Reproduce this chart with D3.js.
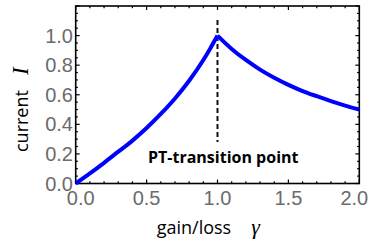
<!DOCTYPE html>
<html><head><meta charset="utf-8">
<script src="https://cdn.jsdelivr.net/npm/d3@7"></script>
<style>body{margin:0;background:#fff}</style>
</head><body>
<svg id="c" width="371" height="247"></svg>
<script>
const gammaLeft = [0,0.1,0.2,0.3,0.4,0.5,0.6,0.7,0.8,0.9,0.95,1.0];
const currentLeft = [0,0.068,0.14,0.215,0.29,0.375,0.47,0.575,0.695,0.835,0.915,1.0];
const gammaRight = [1.0,1.1,1.2,1.3,1.4,1.5,1.6,1.7,1.8,1.9,2.0];
const currentRight = [1.0,0.91,0.835,0.77,0.715,0.667,0.625,0.59,0.557,0.527,0.5];
const xTicks = [0,0.5,1.0,1.5,2.0];
const yTicks = [0,0.2,0.4,0.6,0.8,1.0];
const transitionGamma = 1.0;
const annotation = "PT-transition point";

const svg = d3.select("#c");
const x = d3.scaleLinear().domain([0,2]).range([75.7,359.3]);
const y = d3.scaleLinear().domain([0,1.2]).range([183.5,6]);

svg.append("rect").attr("x",x(0)).attr("y",y(1.2)).attr("width",x(2)-x(0)).attr("height",y(0)-y(1.2))
  .attr("fill","none").attr("stroke","#000").attr("stroke-width",1.6);

const tickG = svg.append("g").attr("stroke","#000").attr("stroke-width",1.2);
d3.range(0,21).forEach(i=>{
  const v=i/10, major = i%5===0, L = major?4:2.2;
  tickG.append("line").attr("x1",x(v)).attr("x2",x(v)).attr("y1",y(0)).attr("y2",y(0)-L);
  tickG.append("line").attr("x1",x(v)).attr("x2",x(v)).attr("y1",y(1.2)).attr("y2",y(1.2)+L);
});
d3.range(0,25).forEach(i=>{
  const v=i*0.05, major = i%4===0, L = major?4:2.2;
  tickG.append("line").attr("y1",y(v)).attr("y2",y(v)).attr("x1",x(0)).attr("x2",x(0)+L);
  tickG.append("line").attr("y1",y(v)).attr("y2",y(v)).attr("x1",x(2)).attr("x2",x(2)-L);
});

function styleLab(sel){
  sel.attr("font-family","'Liberation Sans', Arial, sans-serif").attr("font-size","20px").attr("fill","#6b6b6b");
}
const xShift = d => d===0 ? 5 : (d===2 ? -5 : 0);
svg.append("g").selectAll("text").data(xTicks).join("text")
  .attr("x",d=>x(d)+xShift(d)).attr("y",205).attr("text-anchor","middle").text(d=>d.toFixed(1)).call(styleLab);

svg.append("g").selectAll("text").data(yTicks).join("text")
  .attr("x",73).attr("y",d=>y(d)+7).attr("text-anchor","end").text(d=>d.toFixed(1)).call(styleLab);

svg.append("line").attr("x1",x(transitionGamma)).attr("x2",x(transitionGamma))
  .attr("y1",20).attr("y2",142).attr("stroke","#111").attr("stroke-width",2).attr("stroke-dasharray","5,3");

const line = d3.line().x(d=>x(d[0])).y(d=>y(d[1])).curve(d3.curveMonotoneX);
[[gammaLeft,currentLeft],[gammaRight,currentRight]].forEach(([g,c])=>{
  svg.append("path").attr("d",line(g.map((v,i)=>[v,c[i]])))
    .attr("fill","none").attr("stroke","#0000ff").attr("stroke-width",4).attr("stroke-linejoin","round");
});

svg.append("text").attr("x",148).attr("y",162.7).attr("font-family","'Open Sans', sans-serif")
  .attr("font-weight","bold").attr("font-size","16px").attr("fill","#000").text(annotation);

const xt = svg.append("text").attr("x",156.7).attr("y",234).attr("font-family","'Open Sans', sans-serif").attr("font-size","18px").attr("fill","#000");
xt.append("tspan").text("gain/loss");
xt.append("tspan").attr("dx",20).attr("font-family","'Liberation Serif', serif").attr("font-style","italic").attr("font-size","22px").text("γ");

const yt = svg.append("text").attr("transform","translate(28,152) rotate(-90)").attr("font-family","'Open Sans', sans-serif").attr("font-size","18px").attr("fill","#000");
yt.append("tspan").text("current");
yt.append("tspan").attr("dx",15).attr("font-family","'Liberation Serif', serif").attr("font-style","italic").attr("font-size","23px").text("I");
</script>
</body></html>
